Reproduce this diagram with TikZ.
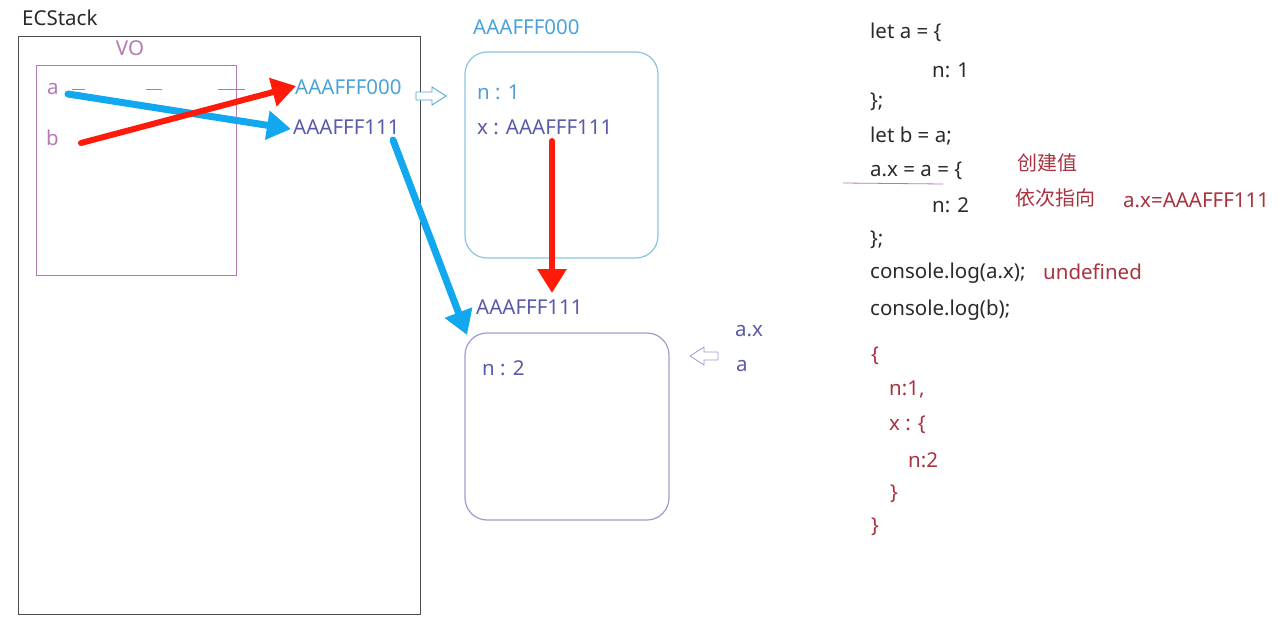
\documentclass[tikz,border=0pt]{standalone}
\usepackage{fontspec}
\setmainfont{Noto Sans}
\newfontfamily\cjk{Noto Sans CJK SC}
\usetikzlibrary{arrows.meta}
\definecolor{lblue}{HTML}{4AA3D6}
\definecolor{boxblue}{HTML}{8EC3E0}
\definecolor{pblue}{HTML}{5A5AAA}
\definecolor{boxpurp}{HTML}{9C9CCE}
\definecolor{vopurp}{HTML}{B47AB4}
\definecolor{arrred}{HTML}{FF1A0A}
\definecolor{arrblue}{HTML}{12A8F0}
\definecolor{dred}{HTML}{A8323F}
\definecolor{codegray}{HTML}{2A2A2A}
\tikzset{
  txt/.style={inner sep=0pt, anchor=west, font=\fontsize{20.5}{20.5}\selectfont},
  code/.style={txt, text=codegray},
  note/.style={txt, text=dred},
  cjknote/.style={note, font=\cjk\fontsize{20}{20}\selectfont},
  redarrow/.style={draw=arrred, line width=6pt, -{Triangle[length=24pt,width=28pt]}},
  bluearrow/.style={draw=arrblue, line width=7pt, -{Triangle[length=24pt,width=28pt]}},
  hollow/.style={line width=0.8pt, fill=white},
}
\begin{document}
\begin{tikzpicture}[x=1pt,y=-1pt]
\useasboundingbox (0,0) rectangle (1288,634);
% ECStack
\node[txt, text=codegray] (ecs) at (22,18) {ECStack};
\draw[draw=black!70, line width=1pt] (18,37) rectangle (420,614);
% VO
\node[txt, anchor=center, text=vopurp] (vo) at (130,48) {VO};
\draw[draw=vopurp, line width=0.9pt] (36,65) rectangle (236,275);
\node[txt, text=vopurp] (va) at (47,89) {a};
\node[txt, text=vopurp] (vb) at (46,138) {b};
\foreach \xa/\xb in {72/85,146/162,218/245,271/280}
  \draw[draw=lblue, line width=0.8pt] (\xa,89) -- (\xb,89);
% addresses in stack
\node[txt, text=lblue] (ad0) at (295,87) {AAAFFF000};
\node[txt, text=pblue] (ad1) at (293,127) {AAAFFF111};
% hollow right arrow
\draw[hollow, draw=lblue] (416,92) -- (432,92) -- (432,87) -- (446,96) -- (432,105) -- (432,100) -- (416,100) -- cycle;
% Heap object 1
\node[txt, text=lblue] (h0lab) at (473,27) {AAAFFF000};
\draw[draw=boxblue, line width=1.2pt, rounded corners=22pt] (465,52) rectangle (658,258);
\node[txt, text=lblue] (n1) at (477,92) {n : 1};
\node[txt, text=pblue] (x1) at (477,127) {x : AAAFFF111};
% Heap object 2
\node[txt, text=pblue] (h1lab) at (476,307) {AAAFFF111};
\draw[draw=boxpurp, line width=1.2pt, rounded corners=22pt] (465,333) rectangle (669,520);
\coordinate (h1tl) at (467,335);
\coordinate (h1top) at (552,293);
\node[txt, text=pblue] (n2) at (482,368) {n : 2};
% hollow left arrow and names
\draw[hollow, draw=boxpurp] (718,352) -- (704,352) -- (704,347) -- (690,356) -- (704,365) -- (704,360) -- (718,360) -- cycle;
\node[txt, text=pblue] (nax) at (735,331) {a.x};
\node[txt, text=pblue] (na) at (736,366) {a};
% arrows
\coordinate (aS) at (68,94);
\coordinate (bS) at (81,143);
\coordinate (ad1W) at (291,129);
\coordinate (ad0W) at (296,86);
\coordinate (ad1S) at (393,140);
\coordinate (x1S) at (552,141);
\draw[bluearrow, line cap=round] (aS) -- (ad1W);
\draw[redarrow, line cap=round] (bS) -- (ad0W);
\draw[bluearrow, line cap=round] (ad1S) -- (h1tl);
\draw[redarrow, line cap=round] (x1S) -- (h1top);
% code
\node[code] (c1) at (870,32) {let a = \{};
\node[code] (c2) at (932,70) {n: 1};
\node[code] (c3) at (870,102) {\};};
\node[code] (c4) at (870,136) {let b = a;};
\node[code] (c5) at (870,171) {a.x = a = \{};
\node[code] (c6) at (932,205) {n: 2};
\node[code] (c7) at (870,240) {\};};
\node[code] (c8) at (870,273) {console.log(a.x);};
\node[code] (c9) at (870,310) {console.log(b);};
\draw[draw=vopurp, line width=0.8pt] (843,183) -- (943,184);
% notes
\node[cjknote] (n_cj) at (1017,163) {创建值};
\node[cjknote] (n_yc) at (1015,198) {依次指向};
\node[note] (n_ax) at (1123,200) {a.x=AAAFFF111};
\node[note] (n_un) at (1043,272) {undefined};
% result object
\node[note] (r1) at (871,356) {\{};
\node[note] (r2) at (889,390) {n:1,};
\node[note] (r3) at (889,425) {x : \{};
\node[note] (r4) at (908,460) {n:2};
\node[note] (r5) at (890,494) {\}};
\node[note] (r6) at (871,527) {\}};
\end{tikzpicture}
\end{document}
